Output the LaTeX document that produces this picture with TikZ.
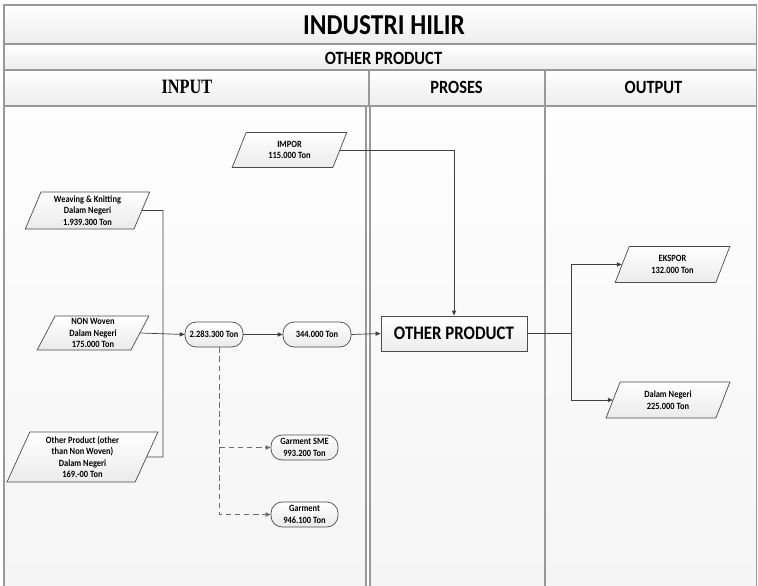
\documentclass[tikz,border=0pt]{standalone}
\usepackage{fontspec}
\newfontfamily\carlito[FakeStretch=0.88]{Carlito}
\newfontfamily\timesb[FakeStretch=0.8]{Liberation Serif}
\usetikzlibrary{shapes.geometric}
\usetikzlibrary{arrows.meta}

\begin{document}
\begin{tikzpicture}[x=0.025cm, y=-0.025cm,
  frame/.style={draw=gray!80, line width=0.9pt},
  cell/.style={frame, top color=white, bottom color=gray!14},
  lane/.style={frame, top color=gray!1, bottom color=gray!8},
  head/.style={font=\carlito\bfseries\fontsize{13.3}{15}\selectfont},
  data/.style={trapezium, trapezium left angle=69, trapezium right angle=111,
    trapezium stretches=true, draw=gray!60!black, line width=0.5pt,
    top color=white, bottom color=gray!16, inner sep=0pt, align=center,
    font=\carlito\bfseries\fontsize{6.8}{8.1}\selectfont},
  flow/.style={rectangle, rounded corners=8pt, draw=gray!60!black, line width=0.5pt,
    top color=white, bottom color=gray!16, inner sep=0pt, align=center,
    minimum height=0.625cm, font=\carlito\bfseries\fontsize{6.8}{8.1}\selectfont},
  plain/.style={draw=black!75, line width=0.5pt},
  link/.style={plain, -{Triangle[length=3.5pt,width=3pt]}},
  split/.style={draw=gray!85!black, line width=0.7pt, dash pattern=on 4pt off 2.5pt,
    -{Triangle[length=3.5pt,width=3pt]}}
]
  \useasboundingbox (0,0) rectangle (758,586);
  \clip (0,0) rectangle (758,586);

  % table frame
  \draw[cell] (4,5) rectangle (756.5,44);
  \draw[cell] (4,44) rectangle (756.5,70);
  \draw[cell] (4,70) rectangle (369,106);
  \draw[cell] (369,70) rectangle (545,106);
  \draw[cell] (545,70) rectangle (756.5,106);
  \draw[lane] (4,106) rectangle (366,600);
  \draw[lane] (370,106) rectangle (545,600);
  \draw[lane] (545,106) rectangle (756.5,600);

  \node[font=\carlito\bfseries\fontsize{20.5}{24}\selectfont] (title) at (384,25.5) {INDUSTRI HILIR};
  \node[head] (sub) at (383.5,58) {OTHER PRODUCT};
  \node[font=\timesb\bfseries\fontsize{14.5}{16}\selectfont] (inp) at (187,87) {INPUT};
  \node[head] (pro) at (456.5,87) {PROSES};
  \node[head] (out) at (653.5,87) {OUTPUT};

  % input side
  \node[data, minimum width=2.875cm, minimum height=0.875cm] (impor) at (289.5,150) {IMPOR\\115.000 Ton};
  \node[data, minimum width=3.125cm, minimum height=0.925cm] (weav) at (87.5,210.5) {Weaving \& Knitting\\Dalam Negeri\\1.939.300 Ton};
  \node[data, minimum width=2.8cm, minimum height=0.85cm] (nonw) at (93,333) {NON Woven\\Dalam Negeri\\175.000 Ton};
  \node[data, minimum width=3.775cm, minimum height=1.25cm] (oth) at (82.5,457) {Other Product (other\\than Non Woven)\\Dalam Negeri\\169.-00 Ton};

  \node[flow, minimum width=1.45cm] (tot) at (214,334.5) {2.283.300 Ton};
  \node[flow, minimum width=1.7cm] (loc) at (317,334.5) {344.000 Ton};
  \node[flow, minimum width=1.675cm] (sme) at (304.5,447.5) {Garment SME\\993.200 Ton};
  \node[flow, minimum width=1.675cm] (gar) at (304.5,514.5) {Garment\\946.100 Ton};

  % process
  \node[draw=gray!60!black, line width=0.6pt, top color=white, bottom color=gray!14,
    minimum width=3.65cm, minimum height=0.875cm, inner sep=0pt,
    font=\carlito\bfseries\fontsize{13.6}{15}\selectfont] (prod) at (454,333.5) {OTHER PRODUCT};

  % output side
  \node[data, minimum width=2.875cm, minimum height=0.9cm] (eks) at (672.5,264.5) {EKSPOR\\132.000 Ton};
  \node[data, minimum width=3.1cm, minimum height=0.9cm] (dn) at (668,400) {Dalam Negeri\\225.000 Ton};

  % connectors
  \coordinate (bend) at (163,457);
  \draw[plain] (weav.east) -| (bend) -- (oth.east);
  \draw[link] (nonw.east) -- (tot.west);
  \draw[link] (tot.east) -- (loc.west);
  \draw[link] (loc.east) -- (prod.west);
  \draw[link] (impor.east) -| (prod.north);
  \draw[split] ([xshift=0.125cm]tot.south) |- (sme.west);
  \draw[split] ([xshift=0.125cm]tot.south) |- (gar.west);

  \coordinate (fork) at (571,333.5);
  \draw[plain] (prod.east) -- (fork);
  \draw[link] (fork) |- (eks.west);
  \draw[link] (fork) |- (dn.west);
\end{tikzpicture}
\end{document}
